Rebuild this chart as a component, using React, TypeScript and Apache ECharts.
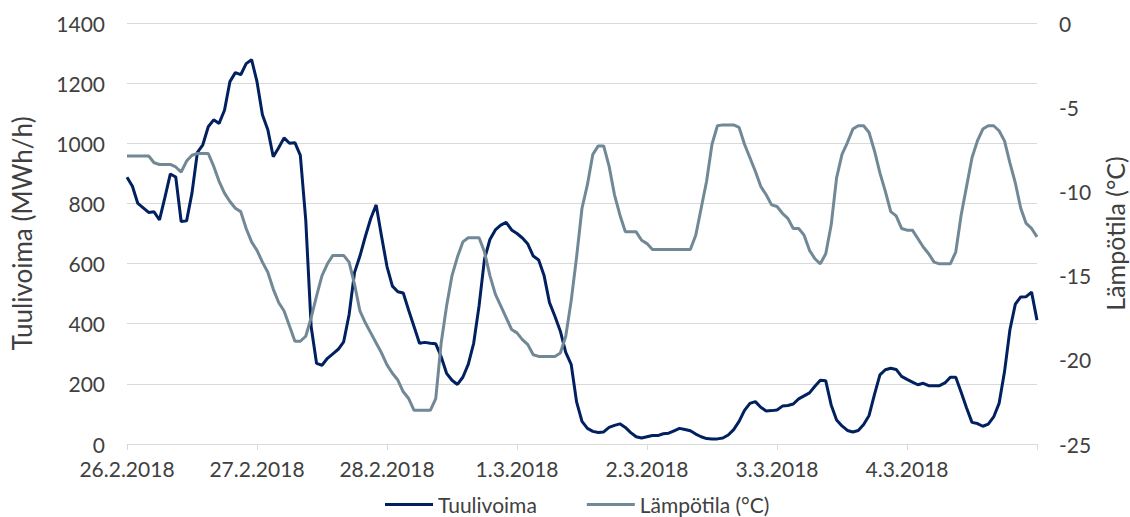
import React, { useEffect, useRef } from "react";
import * as echarts from "echarts";

const dayLabels = ["26.2.2018", "27.2.2018", "28.2.2018", "1.3.2018", "2.3.2018", "3.3.2018", "4.3.2018", "5.3.2018"];

// Tuulivoima (MWh/h), hourly
const windDay1 = [887, 857, 800, 785, 770, 772, 745, 820, 898, 888, 740, 742, 835, 970, 995, 1055, 1078, 1066, 1110, 1205, 1235, 1228, 1265, 1278];
const windDay2 = [1205, 1095, 1045, 955, 985, 1018, 1000, 1002, 960, 745, 390, 268, 262, 285, 300, 315, 340, 430, 570, 625, 690, 750, 795, 690];
const windDay3 = [590, 525, 506, 502, 445, 390, 335, 338, 335, 333, 290, 235, 212, 198, 222, 265, 335, 460, 615, 680, 712, 728, 737, 712];
const windDay4 = [700, 685, 665, 625, 612, 560, 470, 425, 375, 305, 265, 140, 75, 52, 42, 38, 40, 55, 62, 67, 55, 38, 24, 20];
const windDay5 = [24, 28, 28, 34, 36, 44, 52, 48, 44, 33, 24, 18, 17, 17, 20, 30, 48, 75, 112, 135, 141, 122, 110, 111];
const windDay6 = [113, 126, 128, 133, 150, 160, 170, 192, 212, 210, 130, 80, 60, 45, 40, 45, 65, 95, 165, 230, 247, 252, 248, 225];
const windDay7 = [215, 206, 197, 202, 194, 194, 194, 203, 222, 222, 172, 120, 72, 68, 59, 66, 90, 135, 240, 380, 465, 489, 490, 505, 412];

// Lämpötila (°C), hourly
const tempDay1 = [-7.9, -7.9, -7.9, -7.9, -7.9, -8.3, -8.4, -8.4, -8.4, -8.55, -8.85, -8.2, -7.85, -7.75, -7.75, -7.75, -8.5, -9.4, -10.1, -10.6, -11.0, -11.2, -12.2, -13.0];
const tempDay2 = [-13.5, -14.2, -14.8, -15.8, -16.6, -17.1, -18.0, -18.9, -18.9, -18.6, -17.5, -16.2, -15.0, -14.3, -13.8, -13.8, -13.8, -14.2, -15.5, -17.1, -17.8, -18.4, -19.0, -19.6];
const tempDay3 = [-20.3, -20.8, -21.2, -21.9, -22.3, -23.0, -23.0, -23.0, -23.0, -22.3, -19.0, -16.8, -15.0, -13.9, -13.0, -12.75, -12.75, -12.75, -13.6, -15.0, -16.1, -16.8, -17.5, -18.2];
const tempDay4 = [-18.4, -18.8, -19.1, -19.7, -19.8, -19.8, -19.8, -19.8, -19.6, -18.6, -16.5, -13.9, -11.0, -9.6, -7.8, -7.3, -7.3, -8.5, -10.2, -11.4, -12.4, -12.4, -12.4, -12.9];
const tempDay5 = [-13.1, -13.45, -13.45, -13.45, -13.45, -13.45, -13.45, -13.45, -13.45, -12.6, -11.0, -9.4, -7.2, -6.1, -6.05, -6.05, -6.05, -6.2, -7.2, -8.0, -8.8, -9.7, -10.2, -10.8];
const tempDay6 = [-10.9, -11.3, -11.6, -12.2, -12.2, -12.6, -13.5, -14.0, -14.3, -13.7, -12.0, -9.2, -7.8, -7.1, -6.3, -6.1, -6.1, -6.5, -7.6, -8.9, -10.0, -11.2, -11.45, -12.2];
const tempDay7 = [-12.3, -12.3, -12.8, -13.3, -13.7, -14.2, -14.3, -14.3, -14.3, -13.6, -11.4, -9.7, -8.0, -7.0, -6.3, -6.1, -6.1, -6.4, -7.0, -8.3, -9.5, -11.0, -11.9, -12.2, -12.7];

const windValues = [...windDay1, ...windDay2, ...windDay3, ...windDay4, ...windDay5, ...windDay6, ...windDay7];
const tempValues = [...tempDay1, ...tempDay2, ...tempDay3, ...tempDay4, ...tempDay5, ...tempDay6, ...tempDay7];

const categories: string[] = [];
for (let d = 0; d < 7; d++) {
  for (let h = 0; h < 24; h++) {
    categories.push(dayLabels[d] + " " + String(h).padStart(2, "0") + ":00");
  }
}
categories.push(dayLabels[7] + " 00:00");

const FONT = "Lato, 'Noto Sans', sans-serif";
const TEXT = "#404040";
const GRID = "#D9D9D9";

export default function App() {
  const ref = useRef<HTMLDivElement>(null);
  useEffect(() => {
    if (!ref.current) return;
    const chart = echarts.init(ref.current, undefined, { renderer: "svg" });
    chart.setOption({
      animation: false,
      textStyle: { fontFamily: FONT },
      grid: { left: 127, right: 93, top: 23, bottom: 73, containLabel: false, outerBoundsMode: "none" },
      legend: {
        data: [
          { name: "Tuulivoima", icon: "rect" },
          { name: "Lämpötila (°C)", icon: "rect" },
        ],
        left: 380,
        top: 489,
        itemWidth: 48,
        itemHeight: 3,
        itemGap: 50,
        textStyle: { color: TEXT, fontSize: 21, fontFamily: FONT },
      },
      xAxis: {
        type: "category",
        boundaryGap: false,
        data: categories,
        axisLine: { lineStyle: { color: GRID, width: 1 } },
        axisTick: { show: true, interval: 23, length: 6, lineStyle: { color: GRID } },
        axisLabel: {
          interval: 23,
          margin: 14,
          color: TEXT,
          fontSize: 21,
          fontFamily: FONT,
          formatter: (v: string, i: number) => (i < 168 ? v.split(" ")[0] : ""),
        },
        splitLine: { show: false },
      },
      yAxis: [
        {
          type: "value",
          min: 0,
          max: 1400,
          interval: 200,
          name: "Tuulivoima (MWh/h)",
          nameLocation: "middle",
          nameGap: 92,
          nameTextStyle: { color: TEXT, fontSize: 26, fontFamily: FONT },
          axisLine: { show: false },
          axisTick: { show: false },
          axisLabel: { color: TEXT, fontSize: 21, margin: 22, fontFamily: FONT, formatter: (v: number) => String(v) },
          splitLine: { lineStyle: { color: GRID, width: 1 } },
        },
        {
          type: "value",
          min: -25,
          max: 0,
          interval: 5,
          position: "right",
          name: "Lämpötila (°C)",
          nameLocation: "middle",
          nameGap: 63,
          nameTextStyle: { color: TEXT, fontSize: 25, fontFamily: FONT },
          axisLine: { show: false },
          axisTick: { show: false },
          axisLabel: { color: TEXT, fontSize: 21, margin: 22, fontFamily: FONT, formatter: (v: number) => String(v) },
          splitLine: { show: false },
        },
      ],
      series: [
        {
          name: "Tuulivoima",
          type: "line",
          yAxisIndex: 0,
          data: windValues,
          showSymbol: false,
          symbol: "none",
          color: "#002060",
          lineStyle: { color: "#002060", width: 3 },
        },
        {
          name: "Lämpötila (°C)",
          type: "line",
          yAxisIndex: 1,
          data: tempValues,
          showSymbol: false,
          symbol: "none",
          color: "#718896",
          lineStyle: { color: "#718896", width: 3 },
        },
      ],
    });
    return () => chart.dispose();
  }, []);
  return (
    <div
      ref={ref}
      style={{ position: "fixed", left: 0, top: 0, width: 1130, height: 517, background: "#fff" }}
    />
  );
}
